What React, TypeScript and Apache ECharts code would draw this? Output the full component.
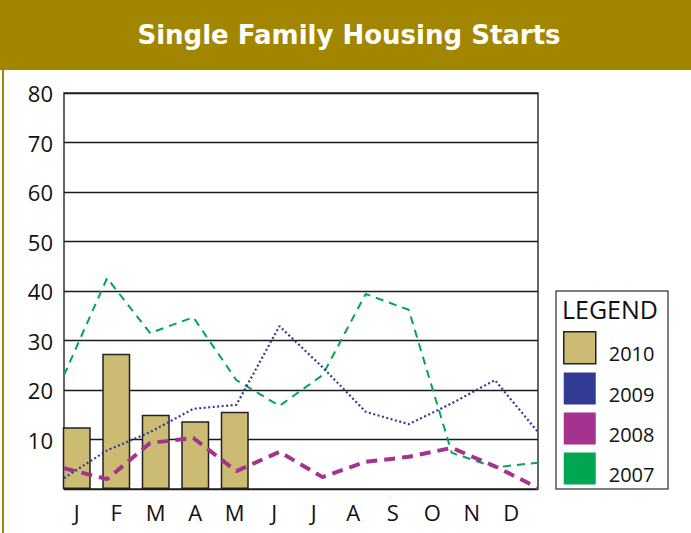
import React, { useEffect, useRef } from "react";
import * as echarts from "echarts";

const months = ["J", "F", "M", "A", "M", "J", "J", "A", "S", "O", "N", "D"];
const starts2010 = [12.5, 27.3, 15, 13.7, 15.6];
const starts2009 = [2.2, 7.8, 11.5, 16.2, 17, 32.9, 24.6, 15.6, 13.1, 17.3, 22, 11.5];
const starts2008 = [4.2, 2, 9.3, 10.3, 3.6, 7.5, 2.4, 5.5, 6.5, 8.3, 4.6, 0.2];
const starts2007 = [23, 42.6, 31.5, 34.7, 22, 16.8, 23, 39.4, 36.2, 7.3, 4.4, 5.3];
const yTicks = { min: 0, max: 80, interval: 10 };
const legendNames = ["2010", "2009", "2008", "2007"];

const GOLD = "#A38600";
const C2010 = "#CCBB73";
const C2009 = "#333A96";
const C2008 = "#A3338F";
const C2007 = "#00A651";

export default function App() {
  const ref = useRef<HTMLDivElement>(null);
  useEffect(() => {
    if (!ref.current) return;
    const chart = echarts.init(ref.current, null, { renderer: "svg" });
    const font = "Open Sans";
    chart.setOption({
      animation: false,
      backgroundColor: "#fff",
      grid: [
        { left: 64, right: 153, top: 93, bottom: 44, show: true, borderColor: "#333", borderWidth: 1.5, backgroundColor: "transparent" },
        { left: 57, right: 160, top: 93, bottom: 44 },
      ],
      xAxis: [
        {
          type: "category", gridIndex: 0, data: months, boundaryGap: false,
          axisLabel: { show: false }, axisTick: { show: false }, axisLine: { show: false }, splitLine: { show: false },
        },
        {
          type: "category", gridIndex: 1, data: months, boundaryGap: true,
          axisLabel: { show: true, fontSize: 22, color: "#111", fontFamily: font, margin: 12 },
          axisTick: { show: false }, axisLine: { show: false }, splitLine: { show: false },
        },
      ],
      yAxis: [
        {
          type: "value", gridIndex: 0, min: yTicks.min, max: yTicks.max, interval: yTicks.interval,
          axisLine: { show: false }, axisTick: { show: false },
          axisLabel: { fontSize: 22, color: "#111", fontFamily: font, margin: 11, formatter: (v: number) => (v === 0 ? "" : String(v)) },
          splitLine: { show: true, lineStyle: { color: "#1a1a1a", width: 1.4 } },
        },
        {
          type: "value", gridIndex: 1, min: yTicks.min, max: yTicks.max, interval: yTicks.interval, show: false,
          splitLine: { show: false },
        },
      ],
      legend: {
        orient: "vertical",
        left: 563,
        top: 331,
        itemWidth: 32,
        itemHeight: 32,
        itemGap: 8,
        icon: "rect",
        padding: 0,
        formatter: "{t|{name}}",
        textStyle: {
          fontSize: 20, color: "#111", fontFamily: font,
          rich: { t: { fontSize: 20, lineHeight: 20, color: "#111", fontFamily: font, padding: [12, 0, 0, 8] } },
        },
        data: [
          { name: "2010", itemStyle: { color: C2010, borderColor: "#222", borderWidth: 1.5 } },
          { name: "2009", itemStyle: { color: C2009, borderWidth: 0 } },
          { name: "2008", itemStyle: { color: C2008, borderWidth: 0 } },
          { name: "2007", itemStyle: { color: C2007, borderWidth: 0 } },
        ],
      },
      graphic: [
        { type: "rect", shape: { x: 0, y: 0, width: 691, height: 70 }, style: { fill: GOLD }, silent: true },
        { type: "rect", shape: { x: 2, y: 70, width: 2, height: 463 }, style: { fill: GOLD }, silent: true },
        {
          type: "text", x: 349, y: 35,
          style: { text: "Single Family Housing Starts", fill: "#fff", font: "bold 26px DejaVu Sans", align: "center", verticalAlign: "middle" },
        },
        { type: "rect", shape: { x: 556, y: 291, width: 112, height: 198 }, style: { fill: "none", stroke: "#555", lineWidth: 1.5 } },
        {
          type: "text", x: 562, y: 309,
          style: { text: "LEGEND", fill: "#111", font: "25px Open Sans", align: "left", verticalAlign: "middle" },
        },
      ],
      series: [
        {
          name: legendNames[0], type: "bar", xAxisIndex: 1, yAxisIndex: 1, data: starts2010, barWidth: 28,
          itemStyle: { color: C2010, borderColor: "#222", borderWidth: 1.5 },
        },
        {
          name: legendNames[3], type: "line", xAxisIndex: 0, yAxisIndex: 0, data: starts2007, symbol: "none",
          lineStyle: { color: C2007, width: 2, type: [8, 6] }, itemStyle: { color: C2007 },
        },
        {
          name: legendNames[1], type: "line", xAxisIndex: 0, yAxisIndex: 0, data: starts2009, symbol: "none",
          lineStyle: { color: C2009, width: 2.2, type: [2, 2.5] }, itemStyle: { color: C2009 },
        },
        {
          name: legendNames[2], type: "line", xAxisIndex: 0, yAxisIndex: 0, data: starts2008, symbol: "none",
          lineStyle: { color: C2008, width: 4, type: [11, 7] }, itemStyle: { color: C2008 },
        },
      ],
    });
    return () => chart.dispose();
  }, []);
  return <div ref={ref} style={{ position: "fixed", left: 0, top: 0, width: 691, height: 533 }} />;
}
